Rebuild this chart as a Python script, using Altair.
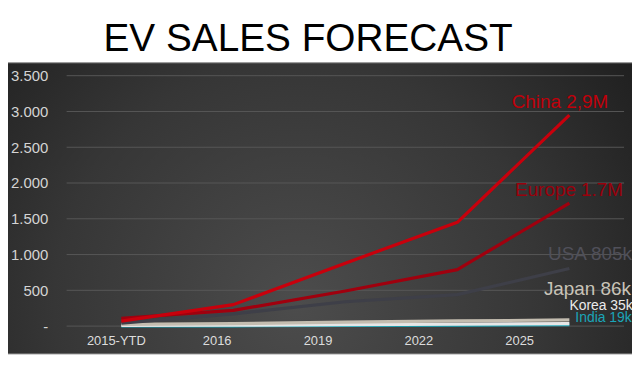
import altair as alt
import pandas as pd

years = ["2015-YTD", "2016", "2019", "2022", "2025"]
series = ["China", "Europe", "USA", "Japan", "Korea", "India"]
china = [70, 300, 880, 1450, 2950]
europe = [110, 220, 490, 790, 1720]
usa = [40, 170, 340, 440, 805]
japan = [25, 35, 55, 72, 86]
korea = [8, 12, 20, 28, 35]
india = [2, 4, 9, 14, 19]
colors = ["#c8000c", "#a0000e", "#3e3f48", "#c4bdb0", "#e6e6e6", "#1aa3b4"]
label_colors = ["#c0000a", "#9a000c", "#50505a", "#c8c3b8", "#ebebeb", "#1ba5b8"]
labels = ["China 2,9M", "Europe 1.7M", "USA 805k", "Japan 86k", "Korea 35k", "India 19k"]
y_ticks = [0, 500, 1000, 1500, 2000, 2500, 3000, 3500]

values = [china, europe, usa, japan, korea, india]
rows = []
for s, vals in zip(series, values):
    for i, (yr, v) in enumerate(zip(years, vals)):
        rows.append({"series": s, "idx": i, "year": yr, "value": v})
df = pd.DataFrame(rows)

W, H = 561, 252

xline = alt.X("idx:Q", scale=alt.Scale(domain=[-0.488, 4.488], nice=False, zero=False), axis=None)
yscale = alt.Scale(domain=[0, 3500], nice=False)
yaxis = alt.Axis(values=y_ticks, grid=False, domain=False, ticks=False, zindex=2,
                 labelExpr="datum.value == 0 ? '-' : replace(format(datum.value, ','), ',', '.')",
                 labelColor="#d4d4d4", labelFontSize=15, labelPadding=19,
                 labelFont="Liberation Sans", title=None)

bg = alt.Chart(pd.DataFrame({"a": [0]})).mark_rect(
    color={
        "gradient": "radial",
        "x1": 0.47, "y1": 0.65, "r1": 0.0,
        "x2": 0.47, "y2": 0.65, "r2": 0.7,
        "stops": [
            {"offset": 0, "color": "#4c4c4c"},
            {"offset": 0.55, "color": "#363636"},
            {"offset": 1, "color": "#1c1c1c"},
        ],
    },
    stroke="#8a8a8a", strokeWidth=1, clip=False,
).encode(x=alt.value(-67), x2=alt.value(570), y=alt.value(-13), y2=alt.value(280))

grid = alt.Chart(pd.DataFrame({"value": y_ticks})).mark_rule(color="#575757", strokeWidth=1).encode(
    y=alt.Y("value:Q", scale=yscale, axis=yaxis),
    x=alt.value(0), x2=alt.value(W),
)

lines = alt.Chart(df).mark_line(strokeWidth=3.2, strokeJoin="round").encode(
    x=xline,
    y=alt.Y("value:Q", scale=yscale, axis=yaxis),
    color=alt.Color("series:N", scale=alt.Scale(domain=series, range=colors), legend=None),
    order="idx:Q",
    detail="series:N",
)
lines_layers = [lines.transform_filter(alt.datum.series == s) for s in reversed(series)]

xlab = alt.Chart(pd.DataFrame({"year": years, "i": list(range(len(years)))})).mark_text(
    color="#dcdcdc", fontSize=13, font="Liberation Sans", baseline="middle"
).encode(
    x=alt.X("i:Q", scale=alt.Scale(domain=[-0.4926, 5.035], nice=False, zero=False), axis=None),
    y=alt.value(267),
    text="year:N",
)

# end labels anchored to the last data point of each series
lab_style = [
    dict(dx=39, dy=-13, align="right", fontSize=19),
    dict(dx=54, dy=-13, align="right", fontSize=19),
    dict(dx=63, dy=-15, align="right", fontSize=19),
    dict(dx=62, dy=-31, align="right", fontSize=19),
    dict(dx=0, dy=-18, align="left", fontSize=14),
    dict(dx=6, dy=-7, align="left", fontSize=14),
]
label_layers = []
for s, vals, lab, col, st in zip(series, values, labels, label_colors, lab_style):
    d = pd.DataFrame({"idx": [len(years) - 1], "value": [vals[-1]], "t": [lab]})
    label_layers.append(
        alt.Chart(d).mark_text(color=col, font="Liberation Sans", baseline="middle", clip=False, **st).encode(
            x=xline, y=alt.Y("value:Q", scale=yscale, axis=yaxis), text="t:N"
        )
    )

title = alt.Chart(pd.DataFrame({"t": ["EV SALES FORECAST"]})).mark_text(
    fontSize=39, font="Liberation Sans", color="#000000", baseline="alphabetic", align="center"
).encode(x=alt.value(243), y=alt.value(-25), text="t:N")

main = alt.layer(grid, *lines_layers, *label_layers)
chart = alt.layer(bg, main, xlab, title).resolve_scale(x="independent").properties(
    width=W, height=H,
    background="#ffffff",
    padding={"left": 59, "top": 67, "right": 8, "bottom": 35},
    autosize=alt.AutoSizeParams(type="none"),
).configure_view(stroke=None)

chart.save("out.html", embed_options={"renderer": "svg", "actions": False})
